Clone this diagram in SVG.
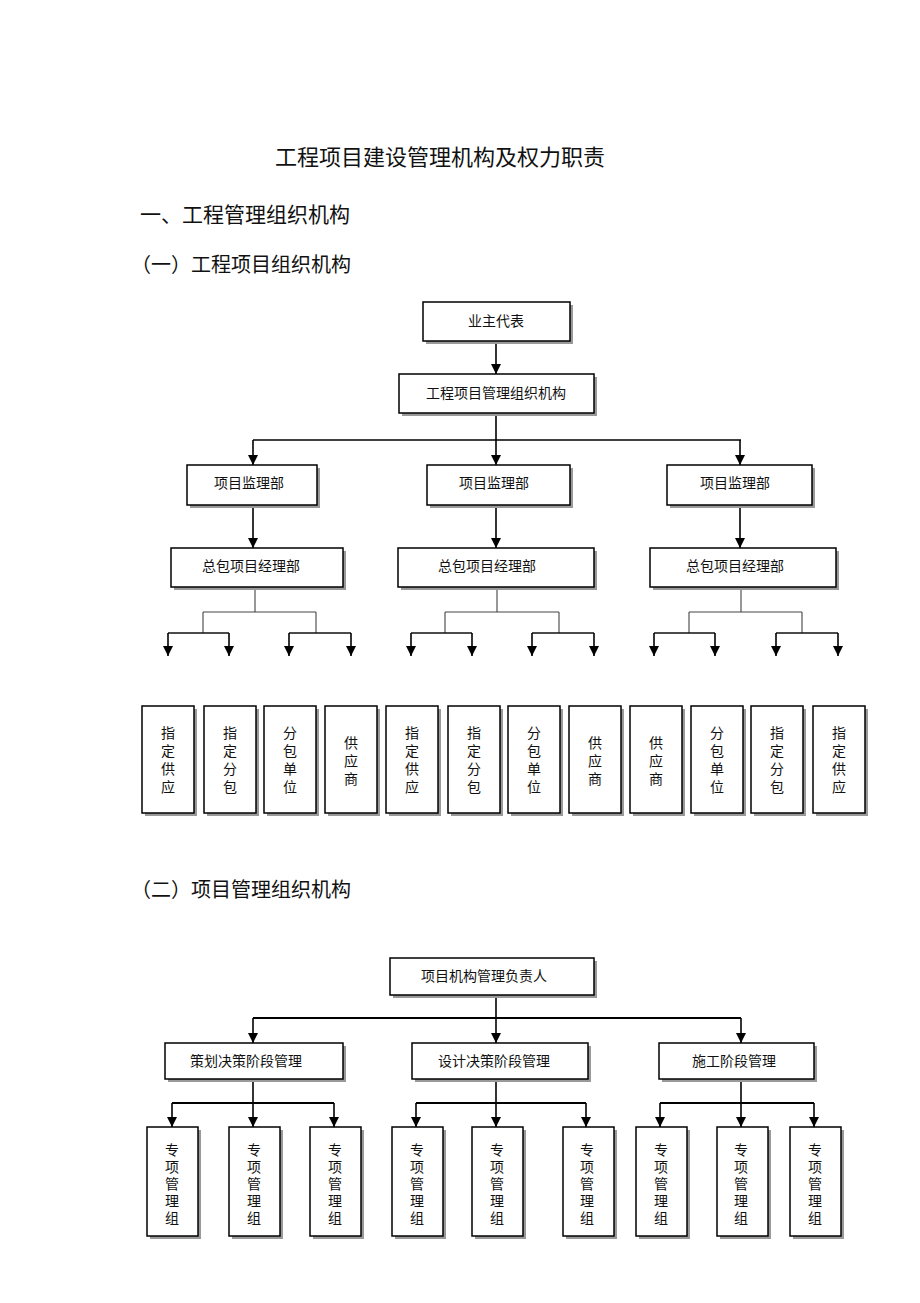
<svg xmlns="http://www.w3.org/2000/svg" width="920" height="1303" viewBox="0 0 920 1303">
<style>
text{font-family:"Noto Sans CJK SC","Noto Sans CJK JP",sans-serif;fill:#111;}
.h1{font-size:22px;}
.h2{font-size:21px;}
.h3{font-size:20px;}
.lb{font-size:14px;text-anchor:middle;}
.v4{font-size:14px;text-anchor:middle;writing-mode:vertical-rl;letter-spacing:4px;}
.v5{font-size:14px;text-anchor:middle;writing-mode:vertical-rl;letter-spacing:3px;}
.box{fill:#fff;stroke:#000;stroke-width:1.5;}
.sh{fill:#9a9a9a;}
.ln{stroke:#000;stroke-width:1.6;fill:none;}
.thin{stroke:#444;stroke-width:1.1;fill:none;}
.bar{stroke:#111;stroke-width:1.5;fill:none;}
</style>
<defs>
<marker id="arrd" markerUnits="userSpaceOnUse" markerWidth="11" markerHeight="10" refX="10" refY="5" orient="auto" viewBox="0 0 11 10">
<path d="M0,0 L10,5 L0,10 z" fill="#000"/>
</marker>
</defs>
<rect width="920" height="1303" fill="#fff"/>

<text class="h1" x="440" y="165" text-anchor="middle">工程项目建设管理机构及权力职责</text>
<text class="h2" x="140" y="222">一、工程管理组织机构</text>
<text class="h3" x="131" y="272">（一）工程项目组织机构</text>
<text class="h3" x="131" y="897">（二）项目管理组织机构</text>

<g id="connectors">
<line class="ln" x1="496" y1="341" x2="496" y2="374" marker-end="url(#arrd)"/>
<line class="ln" x1="496" y1="413" x2="496" y2="440"/>
<line class="ln" x1="253" y1="440" x2="741" y2="440"/>
<line class="ln" x1="253" y1="440" x2="253" y2="465" marker-end="url(#arrd)"/>
<line class="ln" x1="496" y1="440" x2="496" y2="465" marker-end="url(#arrd)"/>
<line class="ln" x1="740" y1="440" x2="740" y2="465" marker-end="url(#arrd)"/>
<line class="ln" x1="253" y1="505" x2="253" y2="548" marker-end="url(#arrd)"/>
<line class="ln" x1="496" y1="505" x2="496" y2="548" marker-end="url(#arrd)"/>
<line class="ln" x1="740" y1="505" x2="740" y2="548" marker-end="url(#arrd)"/>

<path class="thin" d="M255,590 V612 M203,612 H316 M203,612 V633 M316,612 V633"/>
<path class="bar" d="M168,633 H229 M289,633 H351"/>
<line class="ln" x1="168" y1="633" x2="168" y2="656" marker-end="url(#arrd)"/>
<line class="ln" x1="229" y1="633" x2="229" y2="656" marker-end="url(#arrd)"/>
<line class="ln" x1="289" y1="633" x2="289" y2="656" marker-end="url(#arrd)"/>
<line class="ln" x1="351" y1="633" x2="351" y2="656" marker-end="url(#arrd)"/>

<path class="thin" d="M497,590 V612 M445,612 H559 M445,612 V633 M559,612 V633"/>
<path class="bar" d="M411,633 H472 M532,633 H594"/>
<line class="ln" x1="411" y1="633" x2="411" y2="656" marker-end="url(#arrd)"/>
<line class="ln" x1="472" y1="633" x2="472" y2="656" marker-end="url(#arrd)"/>
<line class="ln" x1="532" y1="633" x2="532" y2="656" marker-end="url(#arrd)"/>
<line class="ln" x1="594" y1="633" x2="594" y2="656" marker-end="url(#arrd)"/>

<path class="thin" d="M741,590 V612 M689,612 H802 M689,612 V633 M802,612 V633"/>
<path class="bar" d="M654,633 H715 M776,633 H838"/>
<line class="ln" x1="654" y1="633" x2="654" y2="656" marker-end="url(#arrd)"/>
<line class="ln" x1="715" y1="633" x2="715" y2="656" marker-end="url(#arrd)"/>
<line class="ln" x1="776" y1="633" x2="776" y2="656" marker-end="url(#arrd)"/>
<line class="ln" x1="838" y1="633" x2="838" y2="656" marker-end="url(#arrd)"/>

<line class="ln" x1="496" y1="995" x2="496" y2="1018"/>
<line class="ln" x1="253" y1="1018" x2="741" y2="1018" style="stroke-width:2"/>
<line class="ln" x1="253" y1="1018" x2="253" y2="1043" marker-end="url(#arrd)"/>
<line class="ln" x1="496" y1="1018" x2="496" y2="1043" marker-end="url(#arrd)"/>
<line class="ln" x1="741" y1="1018" x2="741" y2="1043" marker-end="url(#arrd)"/>

<line class="ln" x1="253" y1="1079" x2="253" y2="1103"/>
<line class="ln" x1="172" y1="1103" x2="334" y2="1103" style="stroke-width:2"/>
<line class="ln" x1="172" y1="1103" x2="172" y2="1127" marker-end="url(#arrd)"/>
<line class="ln" x1="253" y1="1103" x2="253" y2="1127" marker-end="url(#arrd)"/>
<line class="ln" x1="334" y1="1103" x2="334" y2="1127" marker-end="url(#arrd)"/>

<line class="ln" x1="496" y1="1079" x2="496" y2="1103"/>
<line class="ln" x1="416" y1="1103" x2="586" y2="1103" style="stroke-width:2"/>
<line class="ln" x1="416" y1="1103" x2="416" y2="1127" marker-end="url(#arrd)"/>
<line class="ln" x1="496" y1="1103" x2="496" y2="1127" marker-end="url(#arrd)"/>
<line class="ln" x1="586" y1="1103" x2="586" y2="1127" marker-end="url(#arrd)"/>

<line class="ln" x1="741" y1="1079" x2="741" y2="1103"/>
<line class="ln" x1="660" y1="1103" x2="814" y2="1103" style="stroke-width:2"/>
<line class="ln" x1="660" y1="1103" x2="660" y2="1127" marker-end="url(#arrd)"/>
<line class="ln" x1="741" y1="1103" x2="741" y2="1127" marker-end="url(#arrd)"/>
<line class="ln" x1="814" y1="1103" x2="814" y2="1127" marker-end="url(#arrd)"/>
</g>

<g id="n-owner"><rect class="sh" x="426" y="305" width="147" height="39"/><rect class="box" x="423" y="302" width="147" height="39"/><text class="lb" x="496" y="326">业主代表</text></g>
<g id="n-pmo"><rect class="sh" x="402" y="377" width="195" height="39"/><rect class="box" x="399" y="374" width="195" height="39"/><text class="lb" x="496" y="398">工程项目管理组织机构</text></g>

<g id="n-sup1"><rect class="sh" x="190" y="468" width="130" height="40"/><rect class="box" x="187" y="465" width="130" height="40"/><text class="lb" x="249" y="488">项目监理部</text></g>
<g id="n-sup2"><rect class="sh" x="430" y="468" width="143" height="40"/><rect class="box" x="427" y="465" width="143" height="40"/><text class="lb" x="494" y="488">项目监理部</text></g>
<g id="n-sup3"><rect class="sh" x="670" y="468" width="145" height="40"/><rect class="box" x="667" y="465" width="145" height="40"/><text class="lb" x="735" y="488">项目监理部</text></g>

<g id="n-gc1"><rect class="sh" x="174" y="551" width="172" height="39"/><rect class="box" x="171" y="548" width="172" height="39"/><text class="lb" x="251" y="571">总包项目经理部</text></g>
<g id="n-gc2"><rect class="sh" x="401" y="551" width="196" height="39"/><rect class="box" x="398" y="548" width="196" height="39"/><text class="lb" x="487" y="571">总包项目经理部</text></g>
<g id="n-gc3"><rect class="sh" x="653" y="551" width="186" height="39"/><rect class="box" x="650" y="548" width="186" height="39"/><text class="lb" x="735" y="571">总包项目经理部</text></g>

<g id="n-s1"><rect class="sh" x="145" y="709" width="52" height="107"/><rect class="box" x="142" y="706" width="52" height="107"/><text class="v4" x="168" y="762">指定供应</text></g>
<g id="n-s2"><rect class="sh" x="207" y="709" width="52" height="107"/><rect class="box" x="204" y="706" width="52" height="107"/><text class="v4" x="230" y="762">指定分包</text></g>
<g id="n-s3"><rect class="sh" x="267" y="709" width="52" height="107"/><rect class="box" x="264" y="706" width="52" height="107"/><text class="v4" x="290" y="762">分包单位</text></g>
<g id="n-s4"><rect class="sh" x="328" y="709" width="52" height="107"/><rect class="box" x="325" y="706" width="52" height="107"/><text class="v4" x="351" y="763">供应商</text></g>
<g id="n-s5"><rect class="sh" x="389" y="709" width="52" height="107"/><rect class="box" x="386" y="706" width="52" height="107"/><text class="v4" x="412" y="762">指定供应</text></g>
<g id="n-s6"><rect class="sh" x="451" y="709" width="52" height="107"/><rect class="box" x="448" y="706" width="52" height="107"/><text class="v4" x="474" y="762">指定分包</text></g>
<g id="n-s7"><rect class="sh" x="511" y="709" width="52" height="107"/><rect class="box" x="508" y="706" width="52" height="107"/><text class="v4" x="534" y="762">分包单位</text></g>
<g id="n-s8"><rect class="sh" x="572" y="709" width="52" height="107"/><rect class="box" x="569" y="706" width="52" height="107"/><text class="v4" x="595" y="763">供应商</text></g>
<g id="n-s9"><rect class="sh" x="633" y="709" width="52" height="107"/><rect class="box" x="630" y="706" width="52" height="107"/><text class="v4" x="656" y="763">供应商</text></g>
<g id="n-s10"><rect class="sh" x="694" y="709" width="52" height="107"/><rect class="box" x="691" y="706" width="52" height="107"/><text class="v4" x="717" y="762">分包单位</text></g>
<g id="n-s11"><rect class="sh" x="754" y="709" width="52" height="107"/><rect class="box" x="751" y="706" width="52" height="107"/><text class="v4" x="777" y="762">指定分包</text></g>
<g id="n-s12"><rect class="sh" x="816" y="709" width="52" height="107"/><rect class="box" x="813" y="706" width="52" height="107"/><text class="v4" x="839" y="762">指定供应</text></g>

<g id="n-lead"><rect class="sh" x="393" y="961" width="204" height="37"/><rect class="box" x="390" y="958" width="204" height="37"/><text class="lb" x="484" y="981">项目机构管理负责人</text></g>
<g id="n-p1"><rect class="sh" x="168" y="1046" width="178" height="36"/><rect class="box" x="165" y="1043" width="178" height="36"/><text class="lb" x="246" y="1066">策划决策阶段管理</text></g>
<g id="n-p2"><rect class="sh" x="415" y="1046" width="176" height="36"/><rect class="box" x="412" y="1043" width="176" height="36"/><text class="lb" x="494" y="1066">设计决策阶段管理</text></g>
<g id="n-p3"><rect class="sh" x="662" y="1046" width="155" height="36"/><rect class="box" x="659" y="1043" width="155" height="36"/><text class="lb" x="734" y="1066">施工阶段管理</text></g>

<g id="n-g1"><rect class="sh" x="150" y="1130" width="51" height="109"/><rect class="box" x="147" y="1127" width="51" height="109"/><text class="v5" x="172" y="1185">专项管理组</text></g>
<g id="n-g2"><rect class="sh" x="232" y="1130" width="51" height="109"/><rect class="box" x="229" y="1127" width="51" height="109"/><text class="v5" x="254" y="1185">专项管理组</text></g>
<g id="n-g3"><rect class="sh" x="313" y="1130" width="51" height="109"/><rect class="box" x="310" y="1127" width="51" height="109"/><text class="v5" x="335" y="1185">专项管理组</text></g>
<g id="n-g4"><rect class="sh" x="395" y="1130" width="51" height="109"/><rect class="box" x="392" y="1127" width="51" height="109"/><text class="v5" x="417" y="1185">专项管理组</text></g>
<g id="n-g5"><rect class="sh" x="475" y="1130" width="51" height="109"/><rect class="box" x="472" y="1127" width="51" height="109"/><text class="v5" x="497" y="1185">专项管理组</text></g>
<g id="n-g6"><rect class="sh" x="566" y="1130" width="51" height="109"/><rect class="box" x="563" y="1127" width="51" height="109"/><text class="v5" x="587" y="1185">专项管理组</text></g>
<g id="n-g7"><rect class="sh" x="639" y="1130" width="51" height="109"/><rect class="box" x="636" y="1127" width="51" height="109"/><text class="v5" x="661" y="1185">专项管理组</text></g>
<g id="n-g8"><rect class="sh" x="720" y="1130" width="51" height="109"/><rect class="box" x="717" y="1127" width="51" height="109"/><text class="v5" x="741" y="1185">专项管理组</text></g>
<g id="n-g9"><rect class="sh" x="793" y="1130" width="51" height="109"/><rect class="box" x="790" y="1127" width="51" height="109"/><text class="v5" x="815" y="1185">专项管理组</text></g>
</svg>
